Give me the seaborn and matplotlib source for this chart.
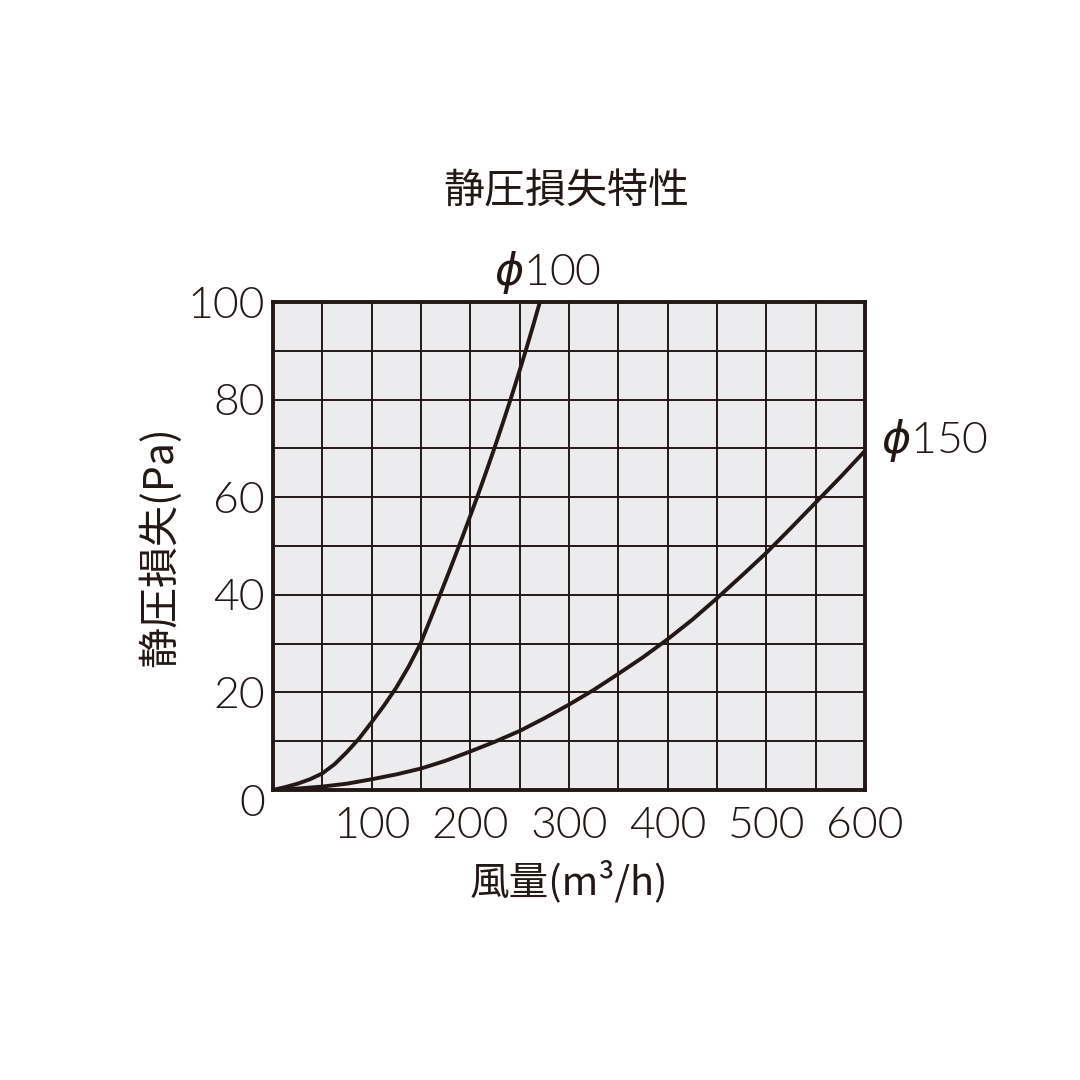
import numpy as np
import pandas as pd
import seaborn as sns
import matplotlib.pyplot as plt

# data
d100_x = [0, 12.5, 25, 37.5, 50, 62.5, 75, 87.5, 100, 112.5, 125, 137.5, 149.5,
          159.5, 169.3, 179, 188.5, 197.8, 206.9, 215.7, 224.3, 232.6, 240.7,
          248.5, 256.1, 263.4, 270.5]
d100_y = [0, 0.6, 1.3, 2.2, 3.4, 5.3, 7.8, 10.6, 13.9, 17.3, 21.0, 25.3, 30,
          35, 40, 45, 50, 55, 60, 65, 70, 75, 80,
          85, 90, 95, 100]
d150_x = [0, 25, 50, 75, 100, 125, 150, 175, 200, 225, 250, 275, 300, 325,
          350, 375, 400, 425, 450, 475, 500, 525, 550, 575, 600]
d150_y = [0, 0.3, 0.7, 1.3, 2.2, 3.2, 4.4, 6.0, 7.9, 9.9, 12.1, 14.7, 17.5,
          20.5, 23.8, 27.2, 30.9, 34.9, 39.3, 43.9, 48.6, 53.7, 58.9, 64.1, 69.5]
x_ticks = [100, 200, 300, 400, 500, 600]
y_ticks = [20, 40, 60, 80, 100]

title = '静圧損失特性'
x_label = '風量(m³/h)'
y_label = '静圧損失(Pa)'

ink = '#231815'
face = '#ECEBEE'

df = pd.concat([
    pd.DataFrame({'風量': d100_x, '静圧': d100_y, '径': '100'}),
    pd.DataFrame({'風量': d150_x, '静圧': d150_y, '径': '150'}),
])

sns.set_theme(style='white')
plt.rcParams['font.family'] = ['Noto Sans CJK JP', 'DejaVu Sans']
plt.rcParams['mathtext.fontset'] = 'dejavusans'
num_font = ['Lato', 'DejaVu Sans']
num_weight = 300

fig = plt.figure(figsize=(10.8, 10.8), dpi=100)
ax = fig.add_axes([273 / 1080, 1 - 790 / 1080, 592 / 1080, 488 / 1080])
ax.set_facecolor(face)

sns.lineplot(data=df, x='風量', y='静圧', units='径', estimator=None,
             color=ink, linewidth=2.8, legend=False, ax=ax, zorder=3)

ax.set_xlim(0, 600)
ax.set_ylim(0, 100)
ax.set_xticks(x_ticks)
ax.set_yticks(y_ticks)
ax.set_xticks(np.arange(0, 601, 50), minor=True)
ax.set_yticks(np.arange(0, 101, 10), minor=True)
ax.grid(True, which='both', color=ink, linewidth=1.4)
ax.tick_params(which='both', length=0)
ax.tick_params(axis='x', pad=12, labelcolor=ink)
ax.tick_params(axis='y', pad=6, labelcolor=ink)
for lab in ax.get_xticklabels() + ax.get_yticklabels():
    lab.set_family(num_font)
    lab.set_fontsize(32)
    lab.set_fontweight(num_weight)
for s in ax.spines.values():
    s.set_visible(True)
    s.set_color(ink)
    s.set_linewidth(2.8)
    s.set_zorder(4)

ax.set_xlabel('')
ax.set_ylabel('')

fig.text(252 / 1080, 1 - 805 / 1080, '0', fontsize=32, color=ink, family=num_font,
         ha='center', va='center', fontweight=num_weight)
fig.text(566 / 1080, 1 - 192 / 1080, title, fontsize=29.5, color=ink,
         ha='center', va='center')
fig.text(569 / 1080, 1 - 882 / 1080, x_label, fontsize=28.5, color=ink,
         ha='center', va='center')
fig.text(160 / 1080, 1 - 547 / 1080, y_label, fontsize=29.5, color=ink,
         ha='center', va='center', rotation=90)
fig.text(548 / 1080, 1 - 273 / 1080, r'$\phi$100', fontsize=32, color=ink, family=num_font,
         ha='center', va='center', fontweight=num_weight)
fig.text(935 / 1080, 1 - 440 / 1080, r'$\phi$150', fontsize=32, color=ink, family=num_font,
         ha='center', va='center', fontweight=num_weight)

fig.savefig('out.png', dpi=100, facecolor='white')
